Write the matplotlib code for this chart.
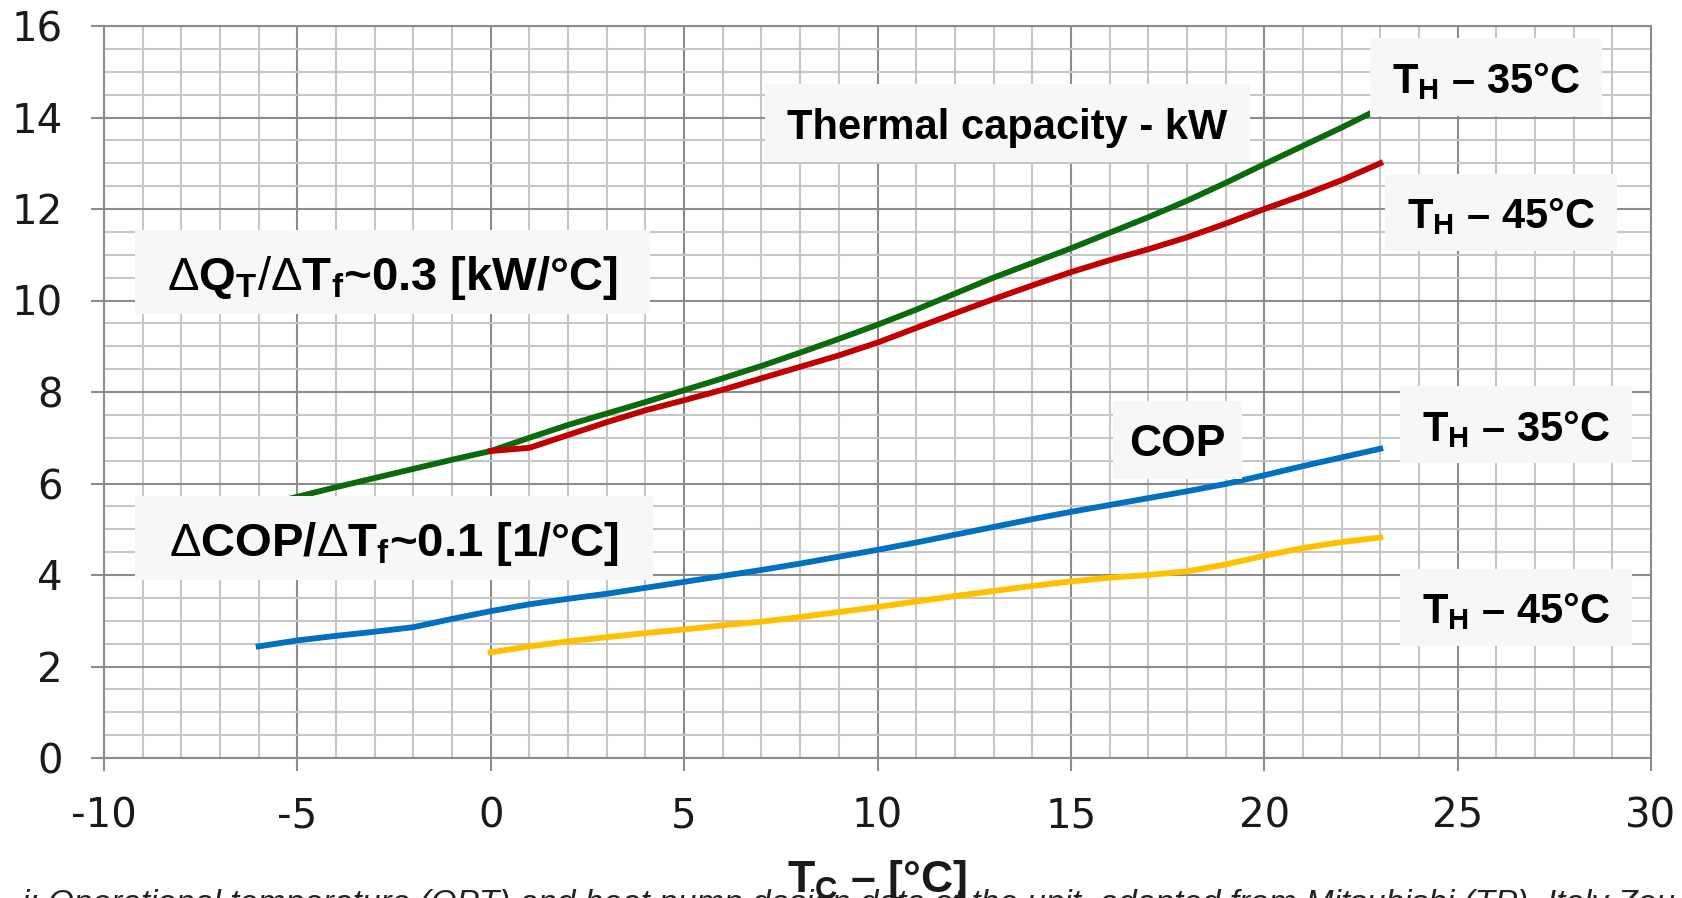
import matplotlib
matplotlib.use('Agg')
import matplotlib.pyplot as plt
from matplotlib.patches import Rectangle

plt.rcParams['axes.unicode_minus'] = False
plt.rcParams['mathtext.fontset'] = 'custom'
plt.rcParams['mathtext.rm'] = 'Liberation Sans'
plt.rcParams['mathtext.bf'] = 'Liberation Sans:bold'
plt.rcParams['mathtext.it'] = 'Liberation Sans:italic'

# cold side temperature T_C [°C]
t_c = list(range(-6, 24))
t_c_45 = list(range(0, 24))

# thermal capacity [kW]
qt_35 = [5.5, 5.71, 5.92, 6.12, 6.32, 6.52, 6.71, 7.0, 7.28, 7.53, 7.78, 8.04, 8.3, 8.57, 8.86,
         9.16, 9.47, 9.8, 10.15, 10.5, 10.82, 11.14, 11.48, 11.82, 12.18, 12.57, 12.98, 13.38, 13.78, 14.2]
qt_45 = [6.71, 6.78, 7.06, 7.34, 7.6, 7.82, 8.05, 8.3, 8.55, 8.8, 9.08, 9.4, 9.72, 10.03, 10.33,
         10.62, 10.88, 11.12, 11.38, 11.68, 12.0, 12.3, 12.63, 13.0]

# COP
cop_35 = [2.44, 2.57, 2.67, 2.76, 2.86, 3.04, 3.21, 3.36, 3.48, 3.59, 3.72, 3.85, 3.98, 4.11, 4.25,
          4.4, 4.55, 4.71, 4.88, 5.05, 5.22, 5.38, 5.53, 5.68, 5.83, 5.99, 6.18, 6.38, 6.57, 6.76]
cop_45 = [2.31, 2.44, 2.55, 2.64, 2.73, 2.81, 2.9, 2.98, 3.08, 3.19, 3.3, 3.42, 3.54, 3.65, 3.76,
          3.86, 3.94, 4.0, 4.08, 4.23, 4.42, 4.59, 4.72, 4.82]

x_ticks = list(range(-10, 31, 5))
y_ticks = list(range(0, 17, 2))

fig = plt.figure(figsize=(16.83, 8.98), dpi=100)
ax = fig.add_axes([104 / 1683, 1 - 758 / 898, 1547 / 1683, 732 / 898])

ax.plot(t_c, qt_35, color='#0b6b0b', lw=4.2, zorder=2, solid_joinstyle='round')
ax.plot(t_c_45, qt_45, color='#c00000', lw=4.2, zorder=2, solid_joinstyle='round')
ax.plot(t_c, cop_35, color='#0070c0', lw=4.2, zorder=2, solid_joinstyle='round')
ax.plot(t_c_45, cop_45, color='#ffc000', lw=4.2, zorder=2, solid_joinstyle='round')

ax.set_xlim(-10, 30)
ax.set_ylim(0, 16)
ax.set_xticks(x_ticks)
ax.set_yticks(y_ticks)
ax.set_xticks(range(-10, 31), minor=True)
ax.set_yticks([i * 0.5 for i in range(33)], minor=True)
ax.set_axisbelow(True)
ax.grid(which='major', color='#8c8c8c', lw=1.5)
ax.grid(which='minor', color='#c6c6c6', lw=1.5)
ax.tick_params(which='minor', length=0)
ax.tick_params(which='major', length=9.5, width=1.5, color='#8c8c8c', labelsize=29,
               labelcolor='#1a1a1a')
ax.tick_params(axis='y', pad=20)
ax.tick_params(axis='x', pad=18)
for s in ax.spines.values():
    s.set_color('#8c8c8c')
    s.set_linewidth(1.5)


def label_box(x0, x1, y0, y1, s, size=30):
    ax.add_patch(Rectangle((x0, y0), x1 - x0, y1 - y0, facecolor='#f7f7f7',
                           edgecolor='none', zorder=3))
    ax.text((x0 + x1) / 2, (y0 + y1) / 2, s, ha='center', va='center_baseline',
            fontsize=size, fontweight='bold', family='Liberation Sans', color='black', zorder=4)


label_box(-9.2, 4.12, 9.71, 11.55,
          r'$\mathrm{\Delta}\mathbf{Q_T}/\mathrm{\Delta}\mathbf{T_f}$~0.3 [kW/°C]', size=34)
label_box(-9.2, 4.2, 3.88, 5.73,
          r'$\mathrm{\Delta}$COP/$\mathrm{\Delta}\mathbf{T_f}$~0.1 [1/°C]', size=34)
label_box(7.08, 19.62, 13.02, 14.73, 'Thermal capacity - kW')
label_box(16.09, 19.42, 6.1, 7.8, 'COP', size=32)
label_box(22.73, 28.73, 14.04, 15.73, r'$\mathbf{T_H}$ – 35°C')
label_box(23.12, 29.12, 11.08, 12.77, r'$\mathbf{T_H}$ – 45°C')
label_box(23.52, 29.5, 6.44, 8.13, r'$\mathbf{T_H}$ – 35°C')
label_box(23.52, 29.5, 2.45, 4.14, r'$\mathbf{T_H}$ – 45°C')

# caption of the source document, cut off at the bottom edge
fig.text(22 / 1683, 1 - 889 / 898,
         'i: Operational temperature (OPT) and heat pump design data of the unit, '
         'adapted from Mitsubishi (TP). Italy Zou 10',
         ha='left', va='top', fontsize=24, style='italic', family='Liberation Sans',
         color='#222222')

fig.text(877 / 1683, 1 - 892 / 898, r'$\mathbf{T_C}$ – [°C]', ha='center', va='baseline',
         fontsize=32, fontweight='bold', family='Liberation Sans', color='#1a1a1a')

fig.savefig('out.png', dpi=100)
